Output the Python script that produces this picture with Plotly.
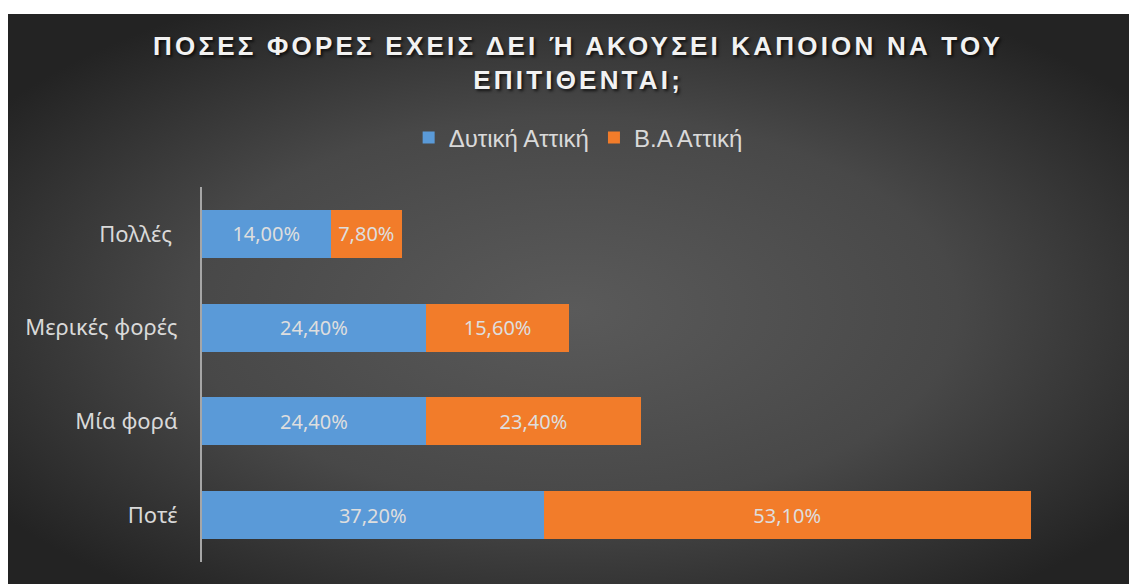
import base64
import plotly.graph_objects as go

categories = ["Πολλές ", "Μερικές φορές", "Μία φορά", "Ποτέ"]
series_names = ["Δυτική Αττική", "Β.Α Αττική"]
west_attica = [14.0, 24.4, 24.4, 37.2]
ne_attica = [7.8, 15.6, 23.4, 53.1]
colors = ["#5a9ad8", "#f27c2a"]

# the page puts the figure at an 8px offset, so figure size = window - 8
W, H = 1129, 576
ML, MR, MT, MB = 194, 17, 179, 22
PW, PH = W - ML - MR, H - MT - MB

def px_to_paper_x(px):
    return (px - ML) / PW

def py_to_paper_y(py):
    return (H - MB - py) / PH

svg = (
    '<svg xmlns="http://www.w3.org/2000/svg" width="1130" height="570" preserveAspectRatio="none">'
    '<defs><radialGradient id="g" cx="50%" cy="52%" r="62%" fx="50%" fy="52%">'
    '<stop offset="0" stop-color="#5a5a5a"/>'
    '<stop offset="0.55" stop-color="#484848"/>'
    '<stop offset="1" stop-color="#232323"/>'
    '</radialGradient></defs>'
    '<rect width="1130" height="570" fill="url(#g)"/></svg>'
)
svg_uri = "data:image/svg+xml;base64," + base64.b64encode(svg.encode()).decode()

fig = go.Figure()
for name, vals, col in zip(series_names, [west_attica, ne_attica], colors):
    fig.add_trace(go.Bar(
        y=categories, x=vals, name=name, orientation="h",
        marker=dict(color=col, line=dict(width=0)),
        texttemplate="%{x:.2f}%", textposition="inside", insidetextanchor="middle",
        textfont=dict(family="Noto Sans", size=20, color="#dedede"),
        hoverinfo="skip",
    ))

fig.update_layout(
    width=W, height=H,
    barmode="stack", bargap=0.487,
    separators=",.",
    paper_bgcolor="white", plot_bgcolor="rgba(0,0,0,0)",
    margin=dict(l=ML, r=MR, t=MT, b=MB),
    title=dict(
        text="<span style='letter-spacing:3.2px'>ΠΟΣΕΣ ΦΟΡΕΣ ΕΧΕΙΣ ΔΕΙ Ή ΑΚΟΥΣΕΙ ΚΑΠΟΙΟΝ ΝΑ ΤΟΥ</span><br>"
             "<span style='letter-spacing:3.2px'>ΕΠΙΤΙΘΕΝΤΑΙ;</span>",
        x=0.505, xref="container", xanchor="center",
        y=1 - 47 / H, yref="container", yanchor="top",
        font=dict(family="Liberation Sans", size=26, color="#f2f2f2", weight="bold",
                  shadow="2px 2px 3px rgba(0,0,0,0.7)"),
    ),
    legend=dict(
        orientation="h", xref="container", yref="container",
        x=0.505, xanchor="center", y=1 - 130 / H, yanchor="middle",
        font=dict(family="Liberation Sans", size=24, color="#d9d9d9"),
        bgcolor="rgba(0,0,0,0)", itemwidth=30, traceorder="normal",
    ),
    xaxis=dict(range=[0, 100], visible=False, fixedrange=True),
    yaxis=dict(
        categoryorder="array", categoryarray=categories, autorange="reversed",
        showgrid=False, zeroline=False,
        showline=True, linecolor="#a6a6a6", linewidth=2,
        ticks="outside", ticklen=18, tickcolor="rgba(0,0,0,0)",
        tickfont=dict(family="Noto Sans", size=22, color="#d9d9d9"),
    ),
    images=[dict(
        source=svg_uri, xref="paper", yref="paper",
        x=px_to_paper_x(-1), y=py_to_paper_y(6),
        sizex=px_to_paper_x(W) - px_to_paper_x(-1),
        sizey=py_to_paper_y(6) - py_to_paper_y(H),
        xanchor="left", yanchor="top", sizing="stretch", layer="below",
    )],
)

fig.write_html("out.html")
